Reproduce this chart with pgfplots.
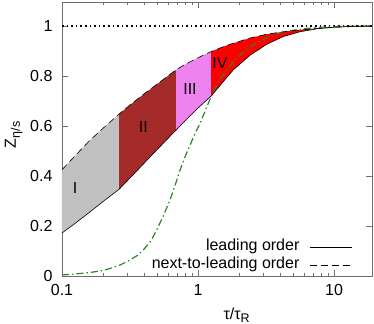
\documentclass[border=0pt]{standalone}
\usepackage{fontspec}
\setmainfont{Liberation Sans}
\usepackage{pgfplots}
\pgfplotsset{compat=1.18}
\definecolor{fgreen}{RGB}{34,139,34}
\definecolor{regI}{RGB}{192,192,192}
\definecolor{regII}{RGB}{165,42,42}
\definecolor{regIII}{RGB}{238,130,238}
\definecolor{regIV}{RGB}{255,0,0}
\definecolor{axgray}{RGB}{110,110,110}
\begin{document}
\begin{tikzpicture}[font=\fontsize{16bp}{19bp}\selectfont]
\begin{axis}[
  at={(0,0)}, anchor=south west,
  scale only axis, width=310bp, height=274bp,
  xmode=log, xmin=0.1, xmax=19, ymin=0, ymax=1.096,
  xtick={0.1,1,10}, xticklabels={0.1,1,10},
  ytick={0,0.2,0.4,0.6,0.8,1}, yticklabels={0,0.2,0.4,0.6,0.8,1},
  tick align=inside, major tick length=6bp, minor tick length=3bp,
  axis line style={axgray, line width=0.8bp},
  every tick/.style={axgray, line width=0.6bp},
  /pgf/number format/assume math mode=true,
  yticklabel style={xshift=-6bp},
  xticklabel style={yshift=-5bp},
  xlabel={τ/τ\raisebox{-0.4ex}{\fontsize{12.5bp}{13bp}\selectfont R}},
  xlabel style={at={(axis description cs:0.5635,0)}, anchor=base, yshift=-43bp},
  ylabel={Z\raisebox{-0.45ex}{\fontsize{12.5bp}{13bp}\selectfont η/s}},
  ylabel style={at={([xshift=-46bp]axis description cs:0,0.515)}, anchor=base, rotate=0},
  legend style={draw=none, fill=none, inner sep=0pt, outer sep=0pt,
    at={(rel axis cs:0.9355,0.014)}, anchor=south east,
    nodes={inner sep=0pt, outer sep=0pt, text height=11bp, text depth=3.6bp},
    row sep=3bp, column sep=10bp},
  legend cell align=right, legend plot pos=right,
  legend image code/.code={\draw[#1] (0bp,0bp) -- (42bp,0bp);},
]
% region fills
\addplot[fill=regI, draw=none, forget plot] coordinates {
(0.1,0.425) (0.1259,0.483) (0.1585,0.540) (0.1995,0.590) (0.263,0.648)
(0.263,0.347) (0.1995,0.297) (0.1585,0.254) (0.1259,0.212) (0.1,0.172)} -- cycle;
\addplot[fill=regII, draw=none, forget plot] coordinates {
(0.263,0.648) (0.3162,0.684) (0.3981,0.727) (0.5012,0.768) (0.69,0.825)
(0.69,0.584) (0.5012,0.506) (0.3981,0.449) (0.3162,0.392) (0.263,0.347)} -- cycle;
\addplot[fill=regIII, draw=none, forget plot] coordinates {
(0.69,0.825) (0.7943,0.845) (1,0.873) (1.25,0.898)
(1.25,0.720) (1,0.672) (0.7943,0.618) (0.69,0.584)} -- cycle;
\addplot[fill=regIV, draw=none, forget plot] coordinates {
(1.25,0.898) (1.585,0.920) (1.82,0.931) (2.41,0.952) (3.2,0.967) (4.24,0.977)
(5.62,0.984) (7.5,0.990) (10,0.995) (14.1,0.998) (19,1.0)
(19,1.0) (14.1,0.999) (10,0.995) (7.5,0.989) (5.62,0.977) (4.24,0.958)
(3.2,0.927) (2.41,0.883) (1.82,0.825) (1.585,0.787) (1.25,0.720)} -- cycle;
% dotted unity line
\addplot[black, line width=1.3bp, dash pattern=on 1.6bp off 3bp, forget plot] coordinates {(0.1,1) (19,1)};
% green curve
\addplot[fgreen, line width=1.2bp, dash pattern=on 7bp off 3bp on 1.5bp off 3bp, forget plot] coordinates {
(0.1,0.004) (0.125,0.008) (0.161,0.014) (0.2,0.022) (0.225,0.030) (0.27,0.045)
(0.316,0.064) (0.36,0.083) (0.396,0.104) (0.45,0.140) (0.497,0.184) (0.56,0.245)
(0.622,0.304) (0.68,0.365) (0.738,0.424) (0.8,0.475) (0.873,0.523) (0.95,0.570)
(1.035,0.611) (1.12,0.656) (1.19,0.691) (1.3,0.740) (1.45,0.785) (1.6,0.818)
(1.81,0.856) (2.1,0.890) (2.41,0.915) (2.8,0.938) (3.27,0.956) (4,0.972)
(5,0.983) (6.5,0.991) (8,0.995) (10,0.998) (14,0.9995) (19,1.0)};
% leading order (lower)
\addplot[black, line width=0.6bp] coordinates {
(0.1,0.172) (0.1259,0.212) (0.1585,0.254) (0.1995,0.297) (0.263,0.347)
(0.3162,0.392) (0.3981,0.449) (0.5012,0.506) (0.69,0.584) (0.7943,0.618)
(1,0.672) (1.25,0.720) (1.585,0.787) (1.82,0.825) (2.41,0.883) (3.2,0.927)
(4.24,0.958) (5.62,0.977) (7.5,0.989) (10,0.995) (14.1,0.999) (19,1.0)};
\addlegendentry{leading order}
% next-to-leading order (upper)
\addplot[black, line width=0.6bp, dash pattern=on 7bp off 4bp] coordinates {
(0.1,0.425) (0.1259,0.483) (0.1585,0.540) (0.1995,0.590) (0.263,0.648)
(0.3162,0.684) (0.3981,0.727) (0.5012,0.768) (0.69,0.825) (0.7943,0.845)
(1,0.873) (1.25,0.898) (1.585,0.920) (1.82,0.931) (2.41,0.952) (3.2,0.967)
(4.24,0.977) (5.62,0.984) (7.5,0.990) (10,0.995) (14.1,0.998) (19,1.0)};
\addlegendentry{next-to-leading order}
\node at (axis cs:0.125,0.352) {I};
\node at (axis cs:0.396,0.597) {II};
\node at (axis cs:0.873,0.747) {III};
\node at (axis cs:1.45,0.851) {IV};
\end{axis}
\pgfresetboundingbox
\path[use as bounding box] (-62bp,-48bp) rectangle (312bp,276bp);
\end{tikzpicture}
\end{document}
